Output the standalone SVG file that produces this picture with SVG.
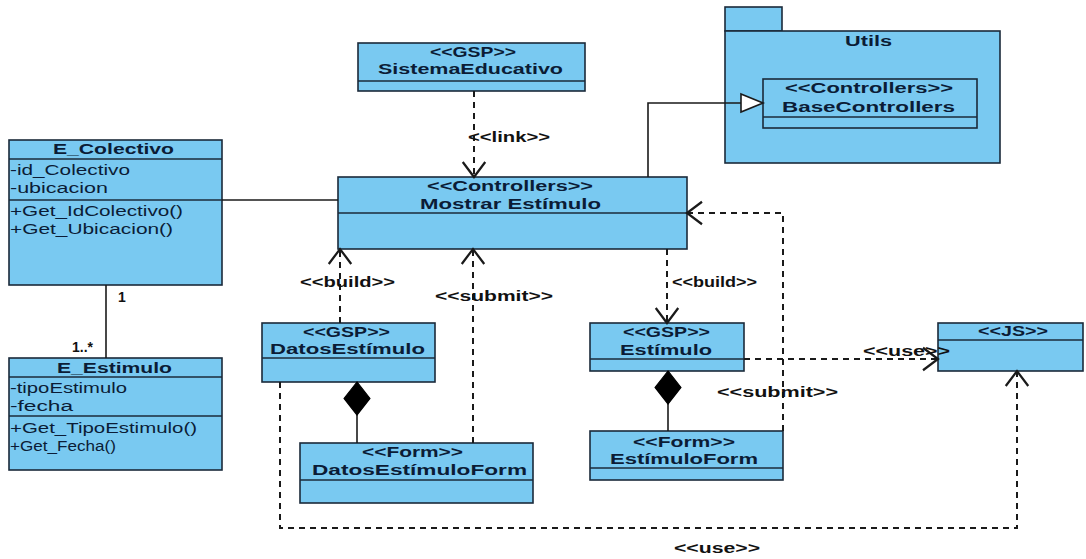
<svg xmlns="http://www.w3.org/2000/svg" width="1086" height="559" viewBox="0 0 1086 559">
  <style>
    .box { fill: #79c9f1; stroke: #1b2a3a; stroke-width: 1.6; }
    .div { stroke: #1b2a3a; stroke-width: 1.4; fill: none; }
    .t { font-family: "Liberation Sans", Arial, sans-serif; font-size: 14px; fill: #0b1c36; }
    .b { font-weight: bold; }
    .lbl { font-family: "Liberation Sans", Arial, sans-serif; font-size: 14px; font-weight: bold; fill: #111; }
    .solid { stroke: #1a1a1a; stroke-width: 1.6; fill: none; }
    .dash { stroke: #1a1a1a; stroke-width: 2; fill: none; stroke-dasharray: 6 5; }
  </style>
  <defs>
    <marker id="open" markerUnits="userSpaceOnUse" markerWidth="30" markerHeight="30" refX="0" refY="0" viewBox="-16 -12 20 24" orient="auto" overflow="visible">
      <path d="M -12 -9 L 0 0 L -12 9" fill="none" stroke="#1a1a1a" stroke-width="1.8"/>
    </marker>
    <marker id="tri" markerUnits="userSpaceOnUse" markerWidth="30" markerHeight="30" refX="0" refY="0" viewBox="-26 -12 30 24" orient="auto" overflow="visible">
      <path d="M -22 -9 L 0 0 L -22 9 Z" fill="#ffffff" stroke="#1a1a1a" stroke-width="1.6"/>
    </marker>
    <marker id="diamond" markerUnits="userSpaceOnUse" markerWidth="40" markerHeight="40" refX="0" refY="0" viewBox="-30 -14 34 28" orient="auto" overflow="visible">
      <path d="M 0 0 L -14 -11 L -28 0 L -14 11 Z" fill="#000" stroke="#000" stroke-width="1"/>
    </marker>
  </defs>

  <!-- E_Colectivo -->
  <g id="E_Colectivo">
    <rect class="box" x="9" y="140" width="213" height="145"/>
    <line class="div" x1="9" y1="159" x2="222" y2="159"/>
    <line class="div" x1="9" y1="200" x2="222" y2="200"/>
    <text class="t b" x="53" y="154" textLength="121" lengthAdjust="spacingAndGlyphs">E_Colectivo</text>
    <text class="t" x="10" y="175" textLength="120" lengthAdjust="spacingAndGlyphs">-id_Colectivo</text>
    <text class="t" x="10" y="193" textLength="98" lengthAdjust="spacingAndGlyphs">-ubicacion</text>
    <text class="t" x="10" y="216" textLength="173" lengthAdjust="spacingAndGlyphs">+Get_IdColectivo()</text>
    <text class="t" x="10" y="234" textLength="163" lengthAdjust="spacingAndGlyphs">+Get_Ubicacion()</text>
  </g>

  <!-- E_Estimulo -->
  <g id="E_Estimulo">
    <rect class="box" x="9" y="358" width="213" height="112"/>
    <line class="div" x1="9" y1="377" x2="222" y2="377"/>
    <line class="div" x1="9" y1="416" x2="222" y2="416"/>
    <text class="t b" x="57" y="373" textLength="115" lengthAdjust="spacingAndGlyphs">E_Estimulo</text>
    <text class="t" x="10" y="393" textLength="117" lengthAdjust="spacingAndGlyphs">-tipoEstimulo</text>
    <text class="t" x="10" y="411" textLength="63" lengthAdjust="spacingAndGlyphs">-fecha</text>
    <text class="t" x="10" y="433" textLength="187" lengthAdjust="spacingAndGlyphs">+Get_TipoEstimulo()</text>
    <text class="t" x="10" y="451" textLength="106" lengthAdjust="spacingAndGlyphs">+Get_Fecha()</text>
  </g>

  <!-- SistemaEducativo -->
  <g id="SistemaEducativo">
    <rect class="box" x="358" y="43" width="227" height="48"/>
    <line class="div" x1="358" y1="81" x2="585" y2="81"/>
    <text class="t b" x="430" y="57" textLength="86" lengthAdjust="spacingAndGlyphs">&lt;&lt;GSP&gt;&gt;</text>
    <text class="t b" x="378" y="74" textLength="185" lengthAdjust="spacingAndGlyphs">SistemaEducativo</text>
  </g>

  <!-- Utils package -->
  <g id="Utils">
    <rect class="box" x="725" y="7" width="57" height="24"/>
    <rect class="box" x="725" y="31" width="275" height="132"/>
    <text class="t b" x="845" y="46" textLength="47" lengthAdjust="spacingAndGlyphs">Utils</text>
  </g>

  <!-- BaseControllers -->
  <g id="BaseControllers">
    <rect class="box" x="763" y="79" width="214" height="49"/>
    <line class="div" x1="763" y1="117" x2="977" y2="117"/>
    <text class="t b" x="785" y="93" textLength="168" lengthAdjust="spacingAndGlyphs">&lt;&lt;Controllers&gt;&gt;</text>
    <text class="t b" x="782" y="112" textLength="173" lengthAdjust="spacingAndGlyphs">BaseControllers</text>
  </g>

  <!-- Mostrar Estímulo -->
  <g id="MostrarEstimulo">
    <rect class="box" x="338" y="177" width="349" height="72"/>
    <line class="div" x1="338" y1="213" x2="687" y2="213"/>
    <text class="t b" x="427" y="191" textLength="166" lengthAdjust="spacingAndGlyphs">&lt;&lt;Controllers&gt;&gt;</text>
    <text class="t b" x="420" y="209" textLength="181" lengthAdjust="spacingAndGlyphs">Mostrar Estímulo</text>
  </g>

  <!-- DatosEstímulo -->
  <g id="DatosEstimulo">
    <rect class="box" x="262" y="323" width="173" height="59"/>
    <line class="div" x1="262" y1="358" x2="435" y2="358"/>
    <text class="t b" x="303" y="337" textLength="87" lengthAdjust="spacingAndGlyphs">&lt;&lt;GSP&gt;&gt;</text>
    <text class="t b" x="270" y="354" textLength="155" lengthAdjust="spacingAndGlyphs">DatosEstímulo</text>
  </g>

  <!-- DatosEstímuloForm -->
  <g id="DatosEstimuloForm">
    <rect class="box" x="300" y="443" width="233" height="60"/>
    <line class="div" x1="300" y1="480" x2="533" y2="480"/>
    <text class="t b" x="362" y="457" textLength="101" lengthAdjust="spacingAndGlyphs">&lt;&lt;Form&gt;&gt;</text>
    <text class="t b" x="312" y="475" textLength="215" lengthAdjust="spacingAndGlyphs">DatosEstímuloForm</text>
  </g>

  <!-- Estímulo -->
  <g id="Estimulo">
    <rect class="box" x="590" y="323" width="154" height="48"/>
    <line class="div" x1="590" y1="359" x2="744" y2="359"/>
    <text class="t b" x="623" y="337" textLength="87" lengthAdjust="spacingAndGlyphs">&lt;&lt;GSP&gt;&gt;</text>
    <text class="t b" x="620" y="355" textLength="92" lengthAdjust="spacingAndGlyphs">Estímulo</text>
  </g>

  <!-- EstímuloForm -->
  <g id="EstimuloForm">
    <rect class="box" x="590" y="431" width="193" height="49"/>
    <line class="div" x1="590" y1="468" x2="783" y2="468"/>
    <text class="t b" x="633" y="447" textLength="102" lengthAdjust="spacingAndGlyphs">&lt;&lt;Form&gt;&gt;</text>
    <text class="t b" x="610" y="464" textLength="148" lengthAdjust="spacingAndGlyphs">EstímuloForm</text>
  </g>

  <!-- JS -->
  <g id="JS">
    <rect class="box" x="938" y="323" width="145" height="48"/>
    <line class="div" x1="938" y1="340" x2="1083" y2="340"/>
    <text class="t b" x="978" y="336" textLength="70" lengthAdjust="spacingAndGlyphs">&lt;&lt;JS&gt;&gt;</text>
  </g>

  <!-- connectors, drawn last so the generalization shows over the package -->
  <g id="connectors">
    <line class="solid" x1="222" y1="200" x2="338" y2="200"/>
    <line class="solid" x1="106" y1="285" x2="106" y2="358"/>
    <line class="dash" x1="474" y1="91" x2="474" y2="177" marker-end="url(#open)"/>
    <polyline class="solid" points="648,177 648,103 763,103" marker-end="url(#tri)"/>
    <line class="dash" x1="340" y1="323" x2="340" y2="249" marker-end="url(#open)"/>
    <line class="dash" x1="473" y1="443" x2="473" y2="249" marker-end="url(#open)"/>
    <line class="dash" x1="667" y1="249" x2="667" y2="323" marker-end="url(#open)"/>
    <line class="solid" x1="357" y1="443" x2="357" y2="382" marker-end="url(#diamond)"/>
    <line class="solid" x1="668" y1="431" x2="668" y2="371" marker-end="url(#diamond)"/>
    <polyline class="dash" points="783,431 783,213 687,213" marker-end="url(#open)"/>
    <line class="dash" x1="744" y1="359" x2="938" y2="359" marker-end="url(#open)"/>
    <polyline class="dash" points="280,382 280,528 1017,528 1017,371" marker-end="url(#open)"/>

    <text class="lbl" x="118" y="302">1</text>
    <text class="lbl" x="72" y="352">1..*</text>
    <text class="lbl" x="468" y="142" textLength="82" lengthAdjust="spacingAndGlyphs">&lt;&lt;link&gt;&gt;</text>
    <text class="lbl" x="300" y="287" textLength="95" lengthAdjust="spacingAndGlyphs">&lt;&lt;build&gt;&gt;</text>
    <text class="lbl" x="435" y="301" textLength="118" lengthAdjust="spacingAndGlyphs">&lt;&lt;submit&gt;&gt;</text>
    <text class="lbl" x="672" y="287" textLength="85" lengthAdjust="spacingAndGlyphs">&lt;&lt;build&gt;&gt;</text>
    <text class="lbl" x="717" y="397" textLength="121" lengthAdjust="spacingAndGlyphs">&lt;&lt;submit&gt;&gt;</text>
    <text class="lbl" x="863" y="356" textLength="87" lengthAdjust="spacingAndGlyphs">&lt;&lt;use&gt;&gt;</text>
    <text class="lbl" x="674" y="553" textLength="86" lengthAdjust="spacingAndGlyphs">&lt;&lt;use&gt;&gt;</text>
  </g>
</svg>
